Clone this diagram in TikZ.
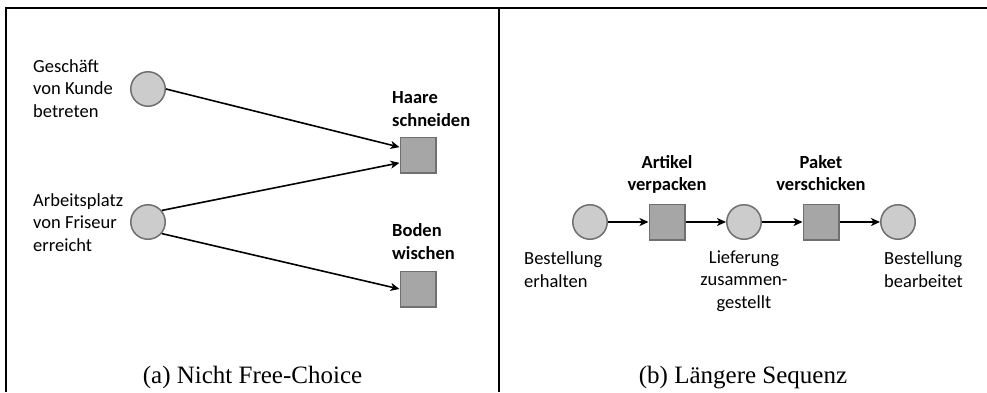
\documentclass[tikz,border=0pt]{standalone}
\usepackage{fontspec}
\setmainfont{Liberation Serif}
\setsansfont{Carlito}
\usetikzlibrary{arrows.meta,positioning}
\definecolor{stellegrau}{RGB}{204,204,204}
\definecolor{transgrau}{RGB}{166,166,166}
\definecolor{randgrau}{RGB}{112,112,112}
\tikzset{
  stelle/.style     = {circle, draw=randgrau, fill=stellegrau, line width=1.5pt,
                       minimum size=34.5pt, inner sep=0pt},
  transition/.style = {rectangle, draw=randgrau, fill=transgrau, line width=1.5pt,
                       minimum size=35.5pt, inner sep=0pt},
  beschr/.style     = {inner sep=0pt, align=left,
                       font=\sffamily\fontsize{18.5}{22.5}\selectfont},
  beschrfett/.style = {inner sep=0pt, align=left,
                       font=\sffamily\bfseries\fontsize{18.5}{22.5}\selectfont},
  pfeil/.style      = {-{Stealth[length=9pt,width=8pt,inset=2.5pt]}, line width=1.6pt},
  rahmen/.style     = {line width=2pt},
  unterschrift/.style = {inner sep=0pt, anchor=base, font=\fontsize{25}{30}\selectfont},
}
\begin{document}
\begin{tikzpicture}[x=1pt, y=-1pt, node distance=5mm and 40.5pt]
      \useasboundingbox (0,0) rectangle (987,392);
      \draw[rahmen] (6,392) -- (6,8) -- (987,8);
      \draw[rahmen] (499,8) -- (499,392);

      % (a) Nicht Free-Choice
      \node[stelle] (kunde) at (148,89) {};
      \node[stelle] (friseur) at (148,222) {};
      \node[transition] (haare) at (418,155) {};
      \node[transition] (boden) at (418,289) {};

      % base = Grundlinie der letzten Zeile
      \node[beschr, anchor=base west] (kundetxt) at (33,117) {Geschäft\\von Kunde\\betreten};
      \node[beschr, anchor=base west] (friseurtxt) at (33,251) {Arbeitsplatz\\von Friseur\\erreicht};
      \node[beschrfett, anchor=base west] (haaretxt) at (392,126) {Haare\\schneiden};
      \node[beschrfett, anchor=base west] (bodentxt) at (392,259) {Boden\\wischen};

      \draw[pfeil] (kunde.east) -- (haare.157);
      \draw[pfeil] (friseur.40) -- (haare.203);
      \draw[pfeil] (friseur.-40) -- (boden.west);

      \node[unterschrift] (capa) at (252.5,383) {(a) Nicht Free-Choice};

      % (b) Laengere Sequenz
      \node[stelle] (erhalten) at (590,222) {};
      \node[transition, right=of erhalten] (verpacken) {};
      \node[stelle, right=of verpacken] (geliefert) {};
      \node[transition, right=of geliefert] (verschicken) {};
      \node[stelle, right=of verschicken] (bearbeitet) {};

      \node[beschrfett, align=center, anchor=base] (verpackentxt)
        at ([yshift=13pt]verpacken.north) {Artikel\\verpacken};
      \node[beschrfett, align=center, anchor=base] (verschickentxt)
        at ([yshift=13pt]verschicken.north) {Paket\\verschicken};
      \node[beschr, anchor=base west] (erhaltentxt) at (524,287) {Bestellung\\erhalten};
      \node[beschr, align=center, anchor=base] (geliefertxt)
        at ([yshift=-68pt]geliefert.south) {Lieferung\\zusammen-\\gestellt};
      \node[beschr, anchor=base west] (bearbeitettxt) at (884,287) {Bestellung\\bearbeitet};

      \draw[pfeil] (erhalten) -- (verpacken);
      \draw[pfeil] (verpacken) -- (geliefert);
      \draw[pfeil] (geliefert) -- (verschicken);
      \draw[pfeil] (verschicken) -- (bearbeitet);

      \node[unterschrift] (capb) at (743,383) {(b) Längere Sequenz};
    \end{tikzpicture}
\end{document}
